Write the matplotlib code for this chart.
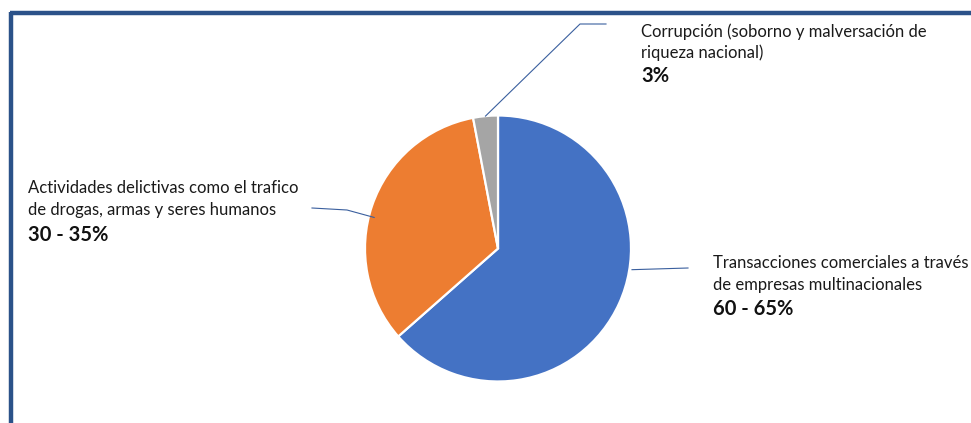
import numpy as np
import matplotlib
matplotlib.use("Agg")
import matplotlib.pyplot as plt

# Estimated shares of illicit financial flows by origin
categories = [
    "Transacciones comerciales a través\nde empresas multinacionales",
    "Actividades delictivas como el trafico\nde drogas, armas y seres humanos",
    "Corrupción (soborno y malversación de\nriqueza nacional)",
]
shares = [63.5, 33.5, 3.0]
range_labels = ["60 - 65%", "30 - 35%", "3%"]
colors = ["#4472C4", "#ED7D31", "#A5A5A5"]

W, H = 971, 423
fig = plt.figure(figsize=(W / 100, H / 100), dpi=100)
ax = fig.add_axes([0, 0, 1, 1])

cx, cy, R = 498, H - 248.5, 133
wedges, _ = ax.pie(
    shares, colors=colors, startangle=90, counterclock=False,
    center=(cx, cy), radius=R, frame=True,
    wedgeprops=dict(edgecolor="white", linewidth=1.6),
)
ax.set_xlim(0, W)
ax.set_ylim(0, H)
ax.set_aspect("equal")
ax.axis("off")

# Frame lines on the left and top
frame_c = "#2B5289"
ax.plot([11, 11], [0, H - 12], color=frame_c, lw=3.2, solid_capstyle="butt")
ax.plot([9.5, W], [H - 12.5, H - 12.5], color=frame_c, lw=3.2, solid_capstyle="butt")

# Leader lines: (fraction along wedge, radius factor, path to label in px)
leader_c = "#3A5F9E"
leaders = [
    (0.567, 1.02, [(688, 268)]),
    (0.54, 0.96, [(347, 210), (312, 208)]),
    (0.5, 1.0, [(580, 24), (606, 24)]),
]
for w, (frac, rf, path) in zip(wedges, leaders):
    a = np.deg2rad(w.theta1 + frac * (w.theta2 - w.theta1))
    x0, y0 = cx + R * rf * np.cos(a), cy + R * rf * np.sin(a)
    xs = [x0] + [p[0] for p in path]
    ys = [y0] + [H - p[1] for p in path]
    ax.plot(xs, ys, color=leader_c, lw=0.8)

# Labels: (x, baseline of first line, line spacing, baseline of value line)
font = "Lato"
label_pos = [(713, 268, 22, 315), (28, 193, 22, 241), (641, 37, 21, 82)]
for cat, rng, (x, y1, dy, yv) in zip(categories, range_labels, label_pos):
    for i, line in enumerate(cat.split("\n")):
        ax.text(x, H - (y1 + i * dy), line, fontsize=12, family=font,
                color="#1a1a1a", va="baseline", ha="left")
    ax.text(x, H - yv, rng, fontsize=14.5, family=font, weight="bold",
            color="#111111", va="baseline", ha="left")

fig.savefig("out.png", dpi=100, facecolor="white")
